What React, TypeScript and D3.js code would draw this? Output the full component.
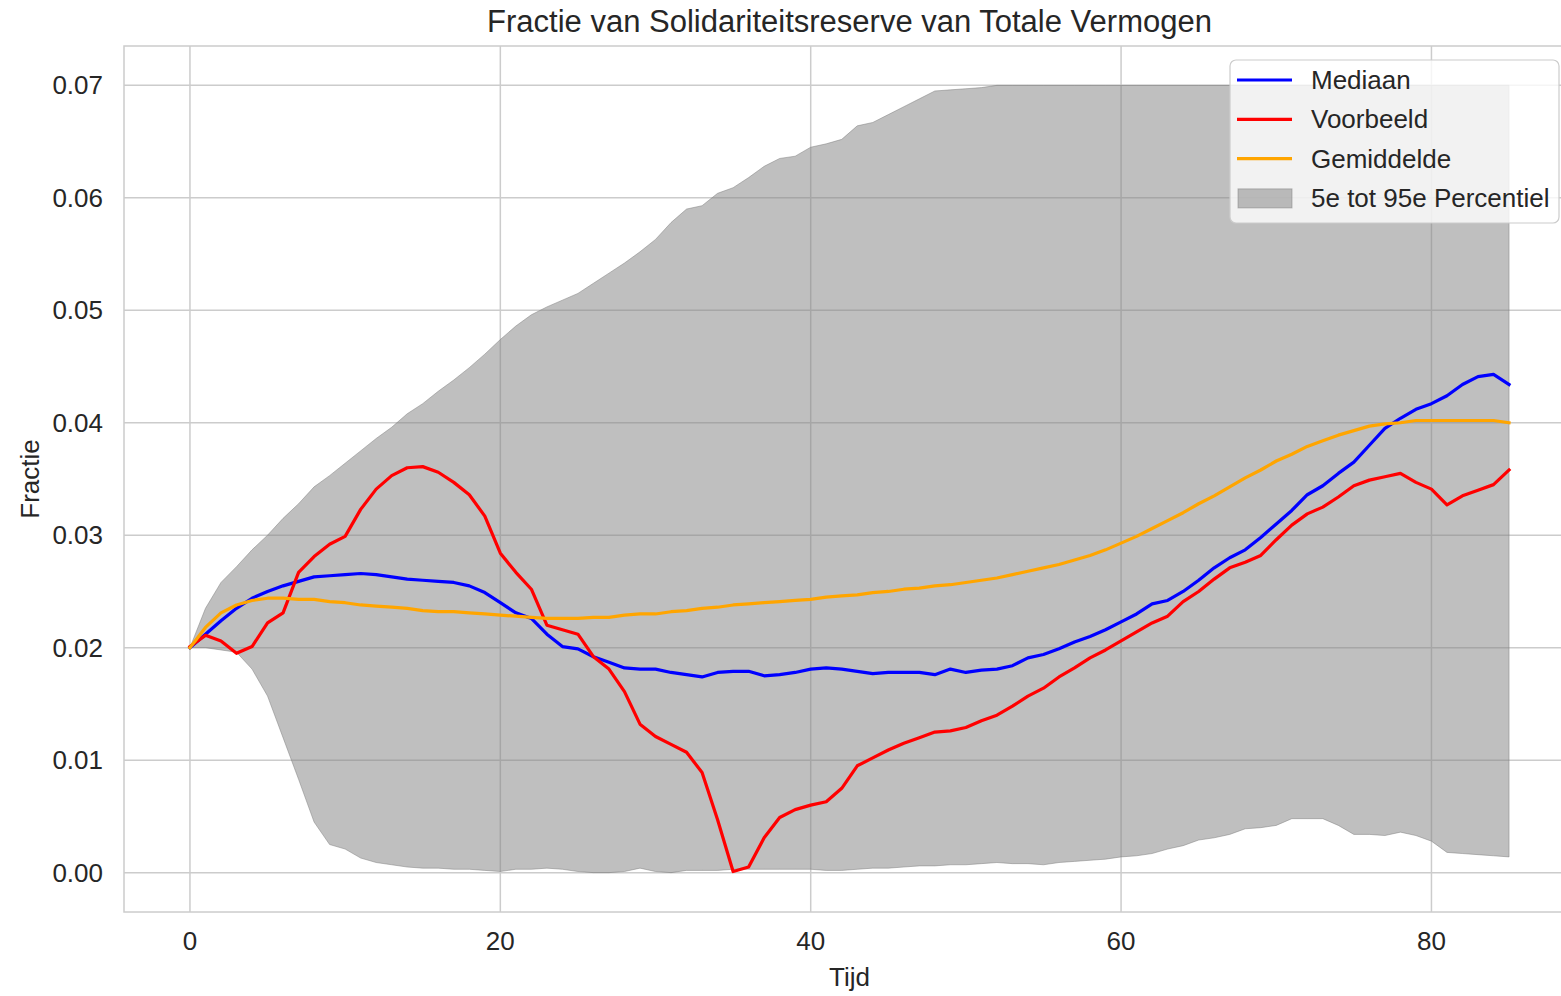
import React from 'react'
import * as d3 from 'd3'

// Tijd 0..85, values
const tijd = d3.range(0, 86)

const mediaan = [
  0.0200, 0.0212, 0.0224, 0.0235, 0.0244, 0.0250, 0.0255, 0.0259, 0.0263, 0.0264,
  0.0265, 0.0266, 0.0265, 0.0263, 0.0261, 0.0260, 0.0259, 0.0258, 0.0255, 0.0249,
  0.0240, 0.0231, 0.0226, 0.0212, 0.0201, 0.0199, 0.0192, 0.0187, 0.0182, 0.0181,
  0.0181, 0.0178, 0.0176, 0.0174, 0.0178, 0.0179, 0.0179, 0.0175, 0.0176, 0.0178,
  0.0181, 0.0182, 0.0181, 0.0179, 0.0177, 0.0178, 0.0178, 0.0178, 0.0176, 0.0181,
  0.0178, 0.0180, 0.0181, 0.0184, 0.0191, 0.0194, 0.0199, 0.0205, 0.0210, 0.0216,
  0.0223, 0.0230, 0.0239, 0.0242, 0.0250, 0.0260, 0.0271, 0.0280, 0.0287, 0.0298,
  0.0310, 0.0322, 0.0336, 0.0344, 0.0355, 0.0365, 0.0380, 0.0395, 0.0404, 0.0412,
  0.0417, 0.0424, 0.0434, 0.0441, 0.0443, 0.0434,
]

const voorbeeld = [
  0.0201, 0.0211, 0.0206, 0.0195, 0.0201, 0.0222, 0.0231, 0.0267, 0.0281, 0.0292,
  0.0299, 0.0323, 0.0341, 0.0353, 0.0360, 0.0361, 0.0356, 0.0347, 0.0336, 0.0317,
  0.0284, 0.0267, 0.0252, 0.0220, 0.0216, 0.0212, 0.0192, 0.0181, 0.0161, 0.0132,
  0.0121, 0.0114, 0.0107, 0.0089, 0.0047, 0.0001, 0.0005, 0.0031, 0.0049, 0.0056,
  0.0060, 0.0063, 0.0075, 0.0095, 0.0102, 0.0109, 0.0115, 0.0120, 0.0125, 0.0126,
  0.0129, 0.0135, 0.0140, 0.0148, 0.0157, 0.0164, 0.0174, 0.0182, 0.0191, 0.0198,
  0.0206, 0.0214, 0.0222, 0.0228, 0.0241, 0.0250, 0.0261, 0.0271, 0.0276, 0.0282,
  0.0296, 0.0309, 0.0319, 0.0325, 0.0334, 0.0344, 0.0349, 0.0352, 0.0355, 0.0347,
  0.0341, 0.0327, 0.0335, 0.0340, 0.0345, 0.0358,
]

const gemiddelde = [
  0.0200, 0.0218, 0.0231, 0.0238, 0.0242, 0.0244, 0.0244, 0.0243, 0.0243, 0.0241,
  0.0240, 0.0238, 0.0237, 0.0236, 0.0235, 0.0233, 0.0232, 0.0232, 0.0231, 0.0230,
  0.0229, 0.0228, 0.0227, 0.0226, 0.0226, 0.0226, 0.0227, 0.0227, 0.0229, 0.0230,
  0.0230, 0.0232, 0.0233, 0.0235, 0.0236, 0.0238, 0.0239, 0.0240, 0.0241, 0.0242,
  0.0243, 0.0245, 0.0246, 0.0247, 0.0249, 0.0250, 0.0252, 0.0253, 0.0255, 0.0256,
  0.0258, 0.0260, 0.0262, 0.0265, 0.0268, 0.0271, 0.0274, 0.0278, 0.0282, 0.0287,
  0.0293, 0.0299, 0.0306, 0.0313, 0.0320, 0.0328, 0.0335, 0.0343, 0.0351, 0.0358,
  0.0366, 0.0372, 0.0379, 0.0384, 0.0389, 0.0393, 0.0397, 0.0399, 0.0400, 0.0402,
  0.0402, 0.0402, 0.0402, 0.0402, 0.0402, 0.0400,
]

const p5 = [
  0.0200, 0.0200, 0.0198, 0.0196, 0.0181, 0.0157, 0.0120, 0.0083, 0.0045, 0.0025,
  0.0021, 0.0013, 0.0009, 0.0007, 0.0005, 0.0004, 0.0004, 0.0003, 0.0003, 0.0002,
  0.0001, 0.0003, 0.0003, 0.0004, 0.0003, 0.0001, 0.0000, 0.0000, 0.0001, 0.0004,
  0.0001, 0.0000, 0.0002, 0.0002, 0.0002, 0.0003, 0.0003, 0.0003, 0.0003, 0.0003,
  0.0003, 0.0002, 0.0002, 0.0003, 0.0004, 0.0004, 0.0005, 0.0006, 0.0006, 0.0007,
  0.0007, 0.0008, 0.0009, 0.0008, 0.0008, 0.0007, 0.0009, 0.0010, 0.0011, 0.0012,
  0.0014, 0.0015, 0.0017, 0.0021, 0.0024, 0.0029, 0.0031, 0.0034, 0.0039, 0.0040,
  0.0042, 0.0048, 0.0048, 0.0048, 0.0042, 0.0034, 0.0034, 0.0033, 0.0036, 0.0033,
  0.0028, 0.0018, 0.0017, 0.0016, 0.0015, 0.0014,
]

const p95 = [
  0.0200, 0.0235, 0.0258, 0.0272, 0.0287, 0.0300, 0.0315, 0.0328, 0.0343, 0.0353,
  0.0364, 0.0375, 0.0386, 0.0396, 0.0408, 0.0417, 0.0428, 0.0438, 0.0449, 0.0461,
  0.0474, 0.0486, 0.0496, 0.0503, 0.0509, 0.0515, 0.0524, 0.0533, 0.0542, 0.0552,
  0.0563, 0.0578, 0.0590, 0.0593, 0.0604, 0.0609, 0.0618, 0.0628, 0.0635, 0.0637,
  0.0645, 0.0648, 0.0652, 0.0664, 0.0667, 0.0674, 0.0681, 0.0688, 0.0695, 0.0696,
  0.0697, 0.0698, 0.0700, 0.0700, 0.0700, 0.0700, 0.0700, 0.0700, 0.0700, 0.0700,
  0.0700, 0.0700, 0.0700, 0.0700, 0.0700, 0.0700, 0.0700, 0.0700, 0.0700, 0.0700,
  0.0700, 0.0700, 0.0700, 0.0700, 0.0700, 0.0700, 0.0700, 0.0700, 0.0700, 0.0700,
  0.0700, 0.0700, 0.0700, 0.0700, 0.0700, 0.0700,
]

const xTicks = [0, 20, 40, 60, 80]
const yTicks = [0, 0.01, 0.02, 0.03, 0.04, 0.05, 0.06, 0.07]

const legendItems = [
  { label: 'Mediaan', color: 'blue', kind: 'line' },
  { label: 'Voorbeeld', color: 'red', kind: 'line' },
  { label: 'Gemiddelde', color: 'orange', kind: 'line' },
  { label: '5e tot 95e Percentiel', color: 'gray', kind: 'patch' },
]

const W = 1561
const H = 996
const plot = { left: 124, right: 1575, top: 46, bottom: 912 }
const FONT = '"Liberation Sans", Arial, Helvetica, sans-serif'
const TEXT = '#262626'
const GRID = '#cccccc'

export default function App() {
  const x = d3.scaleLinear().domain([-4.25, 89.25]).range([plot.left, plot.right])
  const y = d3.scaleLinear().domain([-0.0035, 0.0735]).range([plot.bottom, plot.top])

  const line = (vals: number[]) =>
    d3.line<number>().x((_, i) => x(tijd[i])).y(d => y(d))(vals) || ''

  const band = d3.area<number>()
    .x(d => x(d))
    .y0((_, i) => y(p5[i]))
    .y1((_, i) => y(p95[i]))(tijd) || ''

  const series = [
    { vals: mediaan, color: 'blue' },
    { vals: voorbeeld, color: 'red' },
    { vals: gemiddelde, color: 'orange' },
  ]

  const lg = { x: 1230, y: 60, w: 329, h: 163 }

  return (
    <svg width={W} height={H} style={{ position: 'absolute', left: 0, top: 0, background: '#fff' }}
      fontFamily={FONT}>
      <defs>
        <clipPath id="plotclip">
          <rect x={plot.left} y={plot.top} width={plot.right - plot.left} height={plot.bottom - plot.top} />
        </clipPath>
      </defs>
      <rect x={0} y={0} width={W} height={H} fill="#fff" />

      {/* grid */}
      <g stroke={GRID} strokeWidth={1.5}>
        {xTicks.map(t => <line key={'gx' + t} x1={x(t)} x2={x(t)} y1={plot.top} y2={plot.bottom} />)}
        {yTicks.map(t => <line key={'gy' + t} x1={plot.left} x2={plot.right} y1={y(t)} y2={y(t)} />)}
      </g>

      <g clipPath="url(#plotclip)">
        <path d={band} fill="gray" fillOpacity={0.5} stroke="gray" strokeOpacity={0.5} strokeWidth={1} />
        {series.map(s => (
          <path key={s.color} d={line(s.vals)} fill="none" stroke={s.color} strokeWidth={3.2}
            strokeLinejoin="round" strokeLinecap="square" />
        ))}
      </g>

      {/* spines */}
      <rect x={plot.left} y={plot.top} width={plot.right - plot.left} height={plot.bottom - plot.top}
        fill="none" stroke={GRID} strokeWidth={1.5} />

      {/* tick labels */}
      <g fill={TEXT} fontSize={26}>
        {yTicks.map(t => (
          <text key={'ty' + t} x={103} y={y(t)} dy="0.35em" textAnchor="end">{d3.format('.2f')(t)}</text>
        ))}
        {xTicks.map(t => (
          <text key={'tx' + t} x={x(t)} y={950} textAnchor="middle">{t}</text>
        ))}
      </g>

      {/* labels */}
      <text x={(plot.left + plot.right) / 2} y={32} textAnchor="middle" fontSize={31} fill={TEXT}>
        Fractie van Solidariteitsreserve van Totale Vermogen
      </text>
      <text x={(plot.left + plot.right) / 2} y={986} textAnchor="middle" fontSize={26} fill={TEXT}>Tijd</text>
      <text transform={`translate(39,${(plot.top + plot.bottom) / 2}) rotate(-90)`} textAnchor="middle"
        fontSize={26} fill={TEXT}>Fractie</text>

      {/* legend */}
      <g>
        <rect x={lg.x} y={lg.y} width={lg.w} height={lg.h} rx={6} fill="#fff" fillOpacity={0.8}
          stroke={GRID} strokeWidth={1.2} />
        {legendItems.map((it, i) => {
          const cy = 80 + i * 39.3
          return (
            <g key={it.label}>
              {it.kind === 'line'
                ? <line x1={1237} x2={1292} y1={cy} y2={cy} stroke={it.color} strokeWidth={3.2} />
                : <rect x={1238} y={cy - 9} width={54} height={19} fill="gray" fillOpacity={0.5}
                    stroke="gray" strokeOpacity={0.5} strokeWidth={1} />}
              <text x={1311} y={cy} dy="0.35em" fontSize={26} fill={TEXT}>{it.label}</text>
            </g>
          )
        })}
      </g>
    </svg>
  )
}
